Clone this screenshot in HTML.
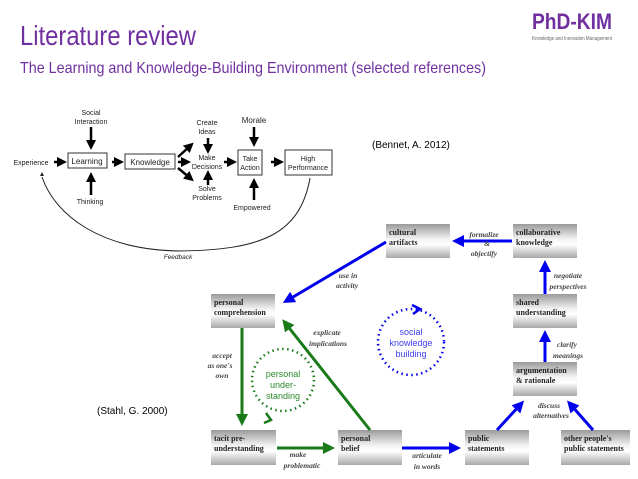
<!DOCTYPE html>
<html><head><meta charset="utf-8"><style>
html,body{margin:0;padding:0;background:#fff}
svg{display:block}
</style></head><body>
<svg width="638" height="479" viewBox="0 0 638 479" xmlns="http://www.w3.org/2000/svg" font-family="Liberation Sans, sans-serif">
<defs>
<linearGradient id="g" x1="0" y1="0" x2="0" y2="1">
<stop offset="0" stop-color="#9a9a9a"/><stop offset="0.45" stop-color="#f4f4f4"/><stop offset="0.6" stop-color="#ffffff"/><stop offset="1" stop-color="#a8a8a8"/>
</linearGradient>
<marker id="ak" markerWidth="4" markerHeight="4" refX="2" refY="2" orient="auto" markerUnits="strokeWidth"><path d="M0,0 L4,2 L0,4 z" fill="#000"/></marker>
<marker id="ab" markerWidth="4" markerHeight="4" refX="2" refY="2" orient="auto" markerUnits="strokeWidth"><path d="M0,0 L4,2 L0,4 z" fill="#0000ee"/></marker>
<marker id="ag" markerWidth="4" markerHeight="4" refX="2" refY="2" orient="auto" markerUnits="strokeWidth"><path d="M0,0 L4,2 L0,4 z" fill="#1a7a1a"/></marker>
</defs>
<text x="20" y="45" font-size="28" fill="#7030a0" textLength="176" lengthAdjust="spacingAndGlyphs">Literature review</text>
<text x="20" y="73" font-size="16" fill="#7030a0" textLength="466" lengthAdjust="spacingAndGlyphs">The Learning and Knowledge-Building Environment (selected references)</text>
<text x="532" y="29" font-size="22" font-weight="bold" fill="#7030a0" textLength="80" lengthAdjust="spacingAndGlyphs">PhD-KIM</text>
<text x="532" y="40" font-size="5" fill="#666" textLength="80" lengthAdjust="spacingAndGlyphs">Knowledge and Innovation Management</text>

<g font-size="7" fill="#222" text-anchor="middle">
<text x="31" y="165">Experience</text>
<rect x="68" y="153" width="39" height="15" fill="#fff" stroke="#333"/><text x="87" y="164" font-size="8">Learning</text>
<rect x="125" y="154" width="50" height="15" fill="#fff" stroke="#333"/><text x="150" y="165" font-size="8">Knowledge</text>
<text x="91" y="115">Social</text><text x="91" y="124">Interaction</text>
<text x="90" y="204">Thinking</text>
<text x="207" y="125">Create</text><text x="207" y="134">Ideas</text>
<text x="207" y="160">Make</text><text x="207" y="169">Decisions</text>
<text x="207" y="191">Solve</text><text x="207" y="200">Problems</text>
<rect x="238" y="150" width="24" height="25" fill="#fff" stroke="#333"/><text x="250" y="161">Take</text><text x="250" y="170">Action</text>
<rect x="285" y="150" width="47" height="25" fill="#fff" stroke="#333"/><text x="308" y="161">High</text><text x="308" y="170">Performance</text>
<text x="254" y="123" font-size="8">Morale</text>
<text x="252" y="210">Empowered</text>
<text x="178" y="259" font-style="italic" font-size="6.5">Feedback</text>
</g>
<g stroke="#000" stroke-width="2.5" fill="none" marker-end="url(#ak)">
<line x1="54" y1="162" x2="62" y2="162"/>
<line x1="112" y1="162" x2="119" y2="162"/>
<line x1="91" y1="127" x2="91" y2="145"/>
<line x1="91" y1="195" x2="91" y2="177"/>
<line x1="178" y1="157" x2="190" y2="146"/>
<line x1="178" y1="162" x2="186" y2="162"/>
<line x1="178" y1="168" x2="190" y2="178"/>
<line x1="208" y1="138" x2="208" y2="149"/>
<line x1="208" y1="185" x2="208" y2="175"/>
<line x1="224" y1="162" x2="232" y2="162"/>
<line x1="254" y1="127" x2="254" y2="142"/>
<line x1="254" y1="200" x2="254" y2="183"/>
<line x1="271" y1="162" x2="279" y2="162"/>
</g>
<path d="M310,178 C300,235 260,250 180,251 C100,250 55,215 42,177" fill="none" stroke="#222" stroke-width="1"/>
<path d="M40,176 L44,176 L42,172 z" fill="#222"/>
<text x="372" y="148" font-size="10" fill="#000">(Bennet, A. 2012)</text>
<text x="97" y="414" font-size="10" fill="#000">(Stahl, G. 2000)</text>

<g font-family="Liberation Serif, serif" font-weight="bold" font-size="8" fill="#222">
<rect x="386" y="224" width="64" height="34" fill="url(#g)"/><text x="389" y="235">cultural</text><text x="389" y="245">artifacts</text>
<rect x="513" y="224" width="64" height="34" fill="url(#g)"/><text x="516" y="235">collaborative</text><text x="516" y="245">knowledge</text>
<rect x="211" y="294" width="64" height="34" fill="url(#g)"/><text x="214" y="305">personal</text><text x="214" y="315">comprehension</text>
<rect x="513" y="294" width="64" height="34" fill="url(#g)"/><text x="516" y="305">shared</text><text x="516" y="315">understanding</text>
<rect x="513" y="362" width="64" height="34" fill="url(#g)"/><text x="516" y="373">argumentation</text><text x="516" y="383">&amp; rationale</text>
<rect x="211" y="430" width="65" height="35" fill="url(#g)"/><text x="214" y="441">tacit    pre-</text><text x="214" y="451">understanding</text>
<rect x="338" y="430" width="64" height="35" fill="url(#g)"/><text x="341" y="441">personal</text><text x="341" y="451">belief</text>
<rect x="465" y="430" width="64" height="35" fill="url(#g)"/><text x="468" y="441">public</text><text x="468" y="451">statements</text>
<rect x="561" y="430" width="69" height="35" fill="url(#g)"/><text x="564" y="441">other people's</text><text x="564" y="451">public statements</text>
</g>
<g stroke="#0000ee" stroke-width="3" fill="none" marker-end="url(#ab)">
<line x1="512" y1="241" x2="458" y2="241"/>
<line x1="386" y1="242" x2="288" y2="300"/>
<line x1="545" y1="294" x2="545" y2="266"/>
<line x1="545" y1="362" x2="545" y2="336"/>
<line x1="402" y1="448" x2="455" y2="448"/>
<line x1="497" y1="430" x2="520" y2="405"/>
<line x1="593" y1="430" x2="571" y2="405"/>
</g>
<g stroke="#1a7a1a" stroke-width="3" fill="none" marker-end="url(#ag)">
<line x1="242" y1="328" x2="242" y2="420"/>
<line x1="277" y1="448" x2="329" y2="448"/>
<line x1="370" y1="430" x2="286" y2="324"/>
</g>
<circle cx="411" cy="342" r="33" fill="none" stroke="#0000ee" stroke-width="2.5" stroke-dasharray="1.5 3.5"/>
<path d="M412,305 L420,309 L413,314" fill="none" stroke="#0000ee" stroke-width="2.5"/>
<circle cx="283" cy="380" r="31" fill="none" stroke="#1a7a1a" stroke-width="2.5" stroke-dasharray="1.5 3.5"/>
<path d="M266,413 L271,420 L264,423" fill="none" stroke="#1a7a1a" stroke-width="2.5"/>
<g font-size="9" text-anchor="middle">
<text x="411" y="335" fill="#4040ee">social</text><text x="411" y="346" fill="#4040ee">knowledge</text><text x="411" y="357" fill="#4040ee">building</text>
<text x="283" y="377" fill="#2a8a2a">personal</text><text x="283" y="388" fill="#2a8a2a">under-</text><text x="283" y="399" fill="#2a8a2a">standing</text>
</g>
<g font-family="Liberation Serif, serif" font-style="italic" font-weight="bold" font-size="7.5" fill="#444" text-anchor="middle">
<text x="484" y="237">formalize</text><text x="487" y="246">&amp;</text><text x="484" y="256">objectify</text>
<text x="348" y="278">use in</text><text x="347" y="288">activity</text>
<text x="568" y="278">negotiate</text><text x="568" y="289">perspectives</text>
<text x="327" y="335">explicate</text><text x="328" y="346">implications</text>
<text x="567" y="347">clarify</text><text x="568" y="358">meanings</text>
<text x="222" y="358">accept</text><text x="220" y="368">as one's</text><text x="222" y="378">own</text>
<text x="549" y="408">discuss</text><text x="551" y="418">alternatives</text>
<text x="298" y="457">make</text><text x="302" y="468">problematic</text>
<text x="427" y="458">articulate</text><text x="427" y="469">in words</text>
</g>
</svg>
</body></html>
